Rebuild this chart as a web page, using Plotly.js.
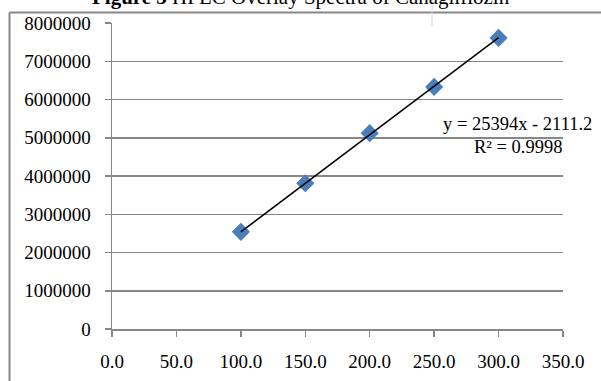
<!DOCTYPE html>
<html>
<head>
<meta charset="utf-8">
<script src="https://cdn.plot.ly/plotly-3.0.1.min.js"></script>
<style>html,body{margin:0;padding:0;background:#fff;}#chart{width:601px;height:381px;}</style>
</head>
<body>
<div id="chart"></div>
<script>
// Data
const concentrations = [100, 150, 200, 250, 300];
const peakAreas = [2540000, 3810000, 5120000, 6330000, 7610000];
const trendSlope = 25394;
const trendIntercept = -2111.2;
const equationText = "y = 25394x - 2111.2";
const r2Text = "R² = 0.9998";
const titleText = "<b>Figure 3</b> HPLC Overlay Spectra of Canagliflozin";
const xTicks = [0, 50, 100, 150, 200, 250, 300, 350];
const yTicks = [0, 1000000, 2000000, 3000000, 4000000, 5000000, 6000000, 7000000, 8000000];

// plot-area geometry (pixels) used to place paper-referenced items
const L = 112, R = 38, T = 23, B = 52, W = 601, H = 381;
const pw = W - L - R, ph = H - T - B;
const px = p => (p - L) / pw;
const py = p => (H - B - p) / ph;

const trendX = [Math.min(...concentrations), Math.max(...concentrations)];
const trendY = trendX.map(x => trendSlope * x + trendIntercept);

const grey = '#878787';
const font = {family: '"Liberation Serif", "Times New Roman", serif', size: 18.5, color: '#000'};
const tickFont = Object.assign({}, font, {size: 19});

const data = [
  {x: concentrations, y: peakAreas, type: 'scatter', mode: 'markers',
   marker: {symbol: 'diamond', size: 14, color: '#4a7ebb', line: {width: 0}}, showlegend: false},
  {x: trendX, y: trendY, type: 'scatter', mode: 'lines',
   line: {color: '#000', width: 1.5}, showlegend: false}
];

const layout = {
  width: W, height: H,
  margin: {l: L, r: R, t: T, b: B, pad: 0},
  paper_bgcolor: '#fff', plot_bgcolor: '#fff',
  font: font,
  showlegend: false,
  xaxis: {range: [0, 350], tickvals: xTicks, tickformat: '.1f', showgrid: false, zeroline: false,
          showline: true, linecolor: grey, linewidth: 1.5, ticks: 'outside', ticklen: 6, tickcolor: grey,
          tickwidth: 1.5, ticklabelstandoff: 9, tickfont: tickFont},
  yaxis: {range: [0, 8000000], tickvals: yTicks, tickformat: 'd', showgrid: true, gridcolor: grey, gridwidth: 1.5,
          zeroline: false, showline: true, linecolor: grey, linewidth: 1.5, ticks: 'outside', ticklen: 6,
          tickcolor: grey, tickwidth: 1.5, ticklabelstandoff: 10, tickfont: tickFont},
  shapes: [
    {type: 'line', xref: 'paper', yref: 'paper', x0: px(9.5), x1: px(9.5), y0: py(12.5), y1: py(400),
     line: {color: grey, width: 2}},
    {type: 'line', xref: 'paper', yref: 'paper', x0: px(9.5), x1: px(640), y0: py(12.5), y1: py(12.5),
     line: {color: grey, width: 2}},
    {type: 'line', xref: 'paper', yref: 'paper', x0: px(432), x1: px(432), y0: py(0), y1: py(26),
     line: {color: '#d4d4d4', width: 1}}
  ],
  annotations: [
    {text: titleText, xref: 'paper', yref: 'paper', x: px(301), y: py(11), xanchor: 'center', yanchor: 'bottom',
     showarrow: false, font: Object.assign({}, font, {size: 21})},
    {text: equationText, xref: 'paper', yref: 'paper', x: px(594), y: py(124), xanchor: 'right', yanchor: 'middle',
     showarrow: false, font: font},
    {text: r2Text, xref: 'paper', yref: 'paper', x: px(564), y: py(146.5), xanchor: 'right', yanchor: 'middle',
     showarrow: false, font: font}
  ]
};

Plotly.newPlot('chart', data, layout, {staticPlot: true, displayModeBar: false});
</script>
</body>
</html>
